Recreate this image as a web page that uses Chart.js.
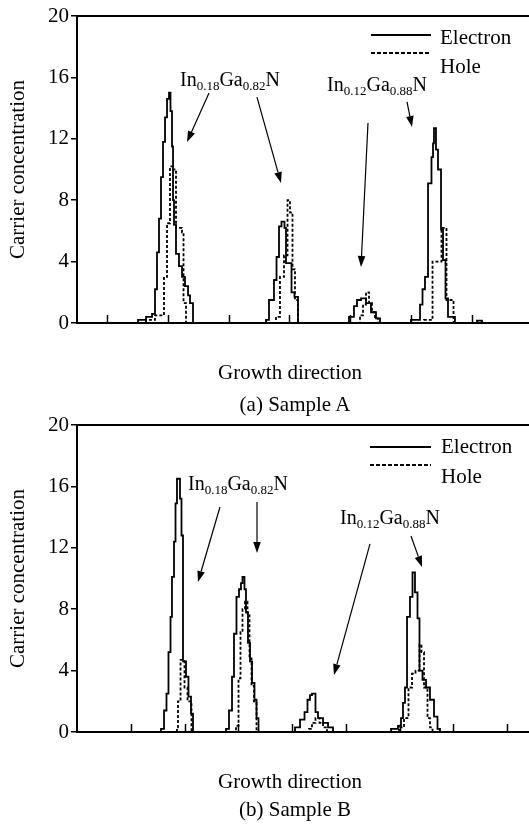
<!DOCTYPE html>
<html><head><meta charset="utf-8">
<script src="https://cdn.jsdelivr.net/npm/chart.js@4.4.0/dist/chart.umd.min.js"></script>
<style>
html,body{margin:0;padding:0;background:#fff;}
body{width:529px;height:826px;position:relative;overflow:hidden;font-family:"Liberation Serif","Times New Roman",serif;color:#000;}
canvas{position:absolute;left:0;}
.t{position:absolute;white-space:nowrap;font-size:21px;line-height:1;transform:translate(-50%,-50%);}
.lt{position:absolute;font-size:21px;line-height:1;transform:translateY(-50%);white-space:nowrap;}
svg.lg{position:absolute;left:0;top:0;}
</style></head><body>
<canvas id="cA" width="529" height="340" style="top:0"></canvas>
<canvas id="cB" width="529" height="340" style="top:409px"></canvas>
<svg class="lg" width="529" height="826">
  <line x1="371" y1="35" x2="431" y2="35" stroke="#000" stroke-width="2"/>
  <line x1="371" y1="53" x2="431" y2="53" stroke="#000" stroke-width="2" stroke-dasharray="4 2"/>
  <line x1="370" y1="447" x2="431" y2="447" stroke="#000" stroke-width="2"/>
  <line x1="370" y1="465" x2="431" y2="465" stroke="#000" stroke-width="2" stroke-dasharray="4 2"/>
</svg>
<div class="lt" style="left:440px;top:37px">Electron</div>
<div class="lt" style="left:440px;top:66px">Hole</div>
<div class="lt" style="left:441px;top:446px">Electron</div>
<div class="lt" style="left:441px;top:476px">Hole</div>
<div class="t" style="left:290px;top:372px">Growth direction</div>
<div class="t" style="left:295px;top:404px">(a) Sample A</div>
<div class="t" style="left:290px;top:781px">Growth direction</div>
<div class="t" style="left:295px;top:809px">(b) Sample B</div>
<script>
// ---------- DATA ----------
const yTicks = [0, 4, 8, 12, 16, 20];
const xTicksA = [5, 15, 25, 35, 45, 55, 65];
const xTicksB = [10, 20, 30, 40, 50, 60, 70, 80];

// Sample A – electron
const aElectronX = [0, 10.05, 11.37, 12.36, 12.85, 13.18, 13.51, 13.84, 14.17, 14.5, 14.83, 15.16, 15.4, 15.65, 15.82, 15.98, 16.31, 16.8, 17.3, 17.79, 18.29, 18.62, 19.11,
  31.14, 31.63, 32.45, 32.87, 33.28, 33.69, 34.18, 34.43, 35.34, 35.83, 36.41,
  44.81, 45.63, 46.13, 46.79, 47.61, 48.43, 49.26, 49.92,
  55.02, 56.51, 56.92, 57.33, 57.83, 58.4, 58.65, 58.81, 59.14, 59.47, 59.97, 60.3, 60.71, 61.12, 62.27, 65.9, 66.72];
const aElectronY = [0, 0.2, 0.4, 0.6, 2.2, 4.6, 6.8, 9.5, 11.8, 13.4, 14.6, 15.0, 13.8, 11.5, 8.0, 6.4, 4.5, 3.7, 3.0, 2.4, 1.8, 1.3, 0,
  0.2, 1.5, 2.8, 4.3, 6.3, 6.6, 6.2, 3.9, 2.0, 1.7, 0,
  0.4, 1.1, 1.5, 1.6, 1.3, 0.7, 0.3, 0,
  0.2, 1.2, 2.2, 3.0, 9.1, 10.8, 11.7, 12.7, 11.3, 10.0, 6.1, 4.1, 1.6, 0.4, 0, 0.15, 0];
// Sample A – hole
const aHoleX = [0, 11.37, 12.85, 14.33, 14.83, 15.32, 15.82, 16.31, 17.3, 17.55, 17.96,
  32.78, 33.44, 34.1, 34.68, 35.09, 35.5, 35.91, 36.41,
  46.62, 47.12, 47.61, 48.11, 48.6, 49.09, 49.59,
  57.17, 58.57, 60.05, 60.87, 62.03];
const aHoleY = [0, 0.2, 0.5, 3.0, 6.5, 10.2, 10.0, 6.2, 5.9, 1.3, 0,
  0.4, 3.0, 4.4, 8.0, 7.2, 3.5, 1.5, 0,
  0.5, 1.2, 2.0, 1.3, 0.7, 0.3, 0,
  0.2, 4.0, 6.2, 1.5, 0];

// Sample B – electron
const bElectronX = [0, 15.63, 16.19, 16.65, 17.02, 17.4, 17.67, 18.05, 18.33, 18.6, 19.16, 19.44, 19.72, 20.28, 20.74, 21.21, 21.58,
  27.72, 28.28, 28.84, 29.21, 29.67, 30.14, 30.51, 30.79, 31.16, 31.44, 31.81, 32.19, 32.56, 33.02, 33.4, 33.77,
  40.56, 41.49, 42.33, 42.88, 43.35, 43.72, 44.37, 44.84, 45.77, 46.7, 47.63,
  58.42, 59.72, 60.28, 60.65, 61.02, 61.4, 61.95, 62.42, 62.88, 63.35, 63.72, 64.28, 64.93, 65.67, 66.42, 67.07, 67.53];
const bElectronY = [0, 0.2, 1.4, 2.5, 5.2, 7.5, 10.1, 12.4, 14.9, 16.5, 15.2, 12.8, 4.6, 3.6, 2.3, 1.2, 0,
  0.2, 1.4, 3.6, 6.4, 8.8, 9.3, 9.7, 10.1, 9.3, 7.8, 5.8, 4.6, 3.2, 2.1, 0.9, 0,
  0.3, 0.8, 1.3, 2.1, 2.4, 2.5, 1.3, 0.9, 0.6, 0.3, 0,
  0.2, 0.4, 0.9, 1.9, 2.9, 7.5, 8.8, 10.4, 9.1, 7.4, 4.0, 3.4, 2.9, 2.1, 1.0, 0.2, 0];
// Sample B – hole
const bHoleX = [0, 18.6, 18.79, 19.26, 20.0, 20.56, 21.3,
  29.58, 30.05, 30.42, 30.79, 31.26, 31.72, 32.09, 32.47, 32.93, 33.4,
  43.16, 43.72, 44.37, 45.12, 45.77, 46.51,
  59.91, 60.84, 61.67, 62.33, 62.98, 63.72, 64.09, 64.56, 65.21, 65.67, 66.14];
const bHoleY = [0, 0.3, 2.0, 4.7, 2.9, 2.0, 0,
  0.4, 3.5, 6.5, 8.0, 8.5, 7.6, 4.8, 3.0, 2.0, 0,
  0.2, 0.6, 0.9, 0.6, 0.3, 0,
  0.3, 0.9, 2.9, 3.8, 4.0, 5.7, 5.2, 2.9, 0.9, 0.3, 0];

// Annotations (data coordinates)
const labelA1 = ['0.18', '0.82'], labelA2 = ['0.12', '0.88'];
const annA = {
  texts: [{x: 16.97, y: 15.44, sub: labelA1}, {x: 41.19, y: 15.11, sub: labelA2}],
  arrows: [[21.75, 14.98, 18.12, 11.79], [29.65, 14.72, 33.61, 9.12], [47.94, 13.03, 46.79, 3.65], [54.37, 14.4, 55.19, 12.77]]
};
const annB = {
  texts: [{x: 20.65, y: 15.77, sub: labelA1}, {x: 48.93, y: 13.55, sub: labelA2}],
  arrows: [[26.6, 14.66, 22.51, 9.77], [33.49, 14.98, 33.49, 11.66], [54.51, 12.25, 47.81, 3.71], [62.14, 12.77, 64.19, 10.75]]
};

// ---------- CHART ----------
const FONT = '"Liberation Serif", "Times New Roman", serif';
const pts = (xs, ys) => xs.map((x, i) => ({x, y: ys[i]}));

const framePlugin = {
  id: 'frame',
  afterDraw(chart) {
    const {ctx, chartArea: {left, right, top, bottom}, scales: {x, y}} = chart;
    const ann = chart.options.plugins.frame.ann;
    ctx.save();
    ctx.strokeStyle = '#000'; ctx.fillStyle = '#000';
    ctx.lineWidth = 2;
    ctx.beginPath(); ctx.moveTo(left, top); ctx.lineTo(right, top); ctx.stroke();
    ctx.lineWidth = 1.5;
    x.ticks.forEach(t => {
      const px = Math.round(x.getPixelForValue(t.value)) + 0.5;
      ctx.beginPath(); ctx.moveTo(px, bottom); ctx.lineTo(px, bottom - 8); ctx.stroke();
    });
    ann.texts.forEach(t => {
      let px = x.getPixelForValue(t.x);
      const py = y.getPixelForValue(t.y);
      const parts = [['In', 0], [t.sub[0], 1], ['Ga', 0], [t.sub[1], 1], ['N', 0]];
      ctx.textBaseline = 'alphabetic'; ctx.textAlign = 'left';
      parts.forEach(([s, isSub]) => {
        ctx.font = (isSub ? '13px ' : '20px ') + FONT;
        ctx.fillText(s, px, py + (isSub ? 4 : 0));
        px += ctx.measureText(s).width;
      });
    });
    ctx.lineWidth = 1.2;
    ann.arrows.forEach(([x1, y1, x2, y2]) => {
      const ax = x.getPixelForValue(x1), ay = y.getPixelForValue(y1);
      const bx = x.getPixelForValue(x2), by = y.getPixelForValue(y2);
      const ang = Math.atan2(by - ay, bx - ax);
      const L = 11, W = 3.8;
      const cx = bx - L * Math.cos(ang), cy = by - L * Math.sin(ang);
      ctx.beginPath(); ctx.moveTo(ax, ay); ctx.lineTo(cx, cy); ctx.stroke();
      ctx.beginPath();
      ctx.moveTo(bx, by);
      ctx.lineTo(cx + W * Math.sin(ang), cy - W * Math.cos(ang));
      ctx.lineTo(cx - W * Math.sin(ang), cy + W * Math.cos(ang));
      ctx.closePath(); ctx.fill();
    });
    ctx.restore();
  }
};

function makeChart(id, eX, eY, hX, hY, xTicks, xMax, ann) {
  return new Chart(document.getElementById(id), {
    type: 'line',
    data: {
      datasets: [
        {label: 'Electron', data: pts(eX, eY), borderColor: '#000', borderWidth: 1.8, stepped: true, pointRadius: 0, fill: false},
        {label: 'Hole', data: pts(hX, hY), borderColor: '#000', borderWidth: 1.8, borderDash: [3, 2], stepped: true, pointRadius: 0, fill: false}
      ]
    },
    options: {
      responsive: false, animation: false, events: [],
      layout: {padding: {top: 16, right: 0, bottom: 17, left: 0}},
      plugins: {legend: {display: false}, tooltip: {enabled: false}, frame: {ann}},
      scales: {
        x: {
          type: 'linear', min: 0, max: xMax,
          afterBuildTicks: s => { s.ticks = xTicks.map(v => ({value: v})); },
          afterFit: s => { s.height = 0; },
          ticks: {display: false},
          grid: {display: false},
          border: {display: true, color: '#000', width: 2}
        },
        y: {
          min: 0, max: 20,
          afterBuildTicks: s => { s.ticks = yTicks.map(v => ({value: v})); },
          afterFit: s => { s.width = 77; },
          ticks: {color: '#000', font: {family: FONT, size: 21}, padding: 2},
          grid: {display: true, drawOnChartArea: false, drawTicks: true, tickLength: 6, color: '#000', lineWidth: 1.5},
          border: {display: true, color: '#000', width: 2},
          title: {display: true, text: 'Carrier concentration', color: '#000', font: {family: FONT, size: 21}, padding: {top: 6, bottom: 0}}
        }
      }
    },
    plugins: [framePlugin]
  });
}

makeChart('cA', aElectronX, aElectronY, aHoleX, aHoleY, xTicksA, 452 / 6.07, annA);
makeChart('cB', bElectronX, bElectronY, bHoleX, bHoleY, xTicksB, 452 / 5.375, annB);
</script>
</body></html>
